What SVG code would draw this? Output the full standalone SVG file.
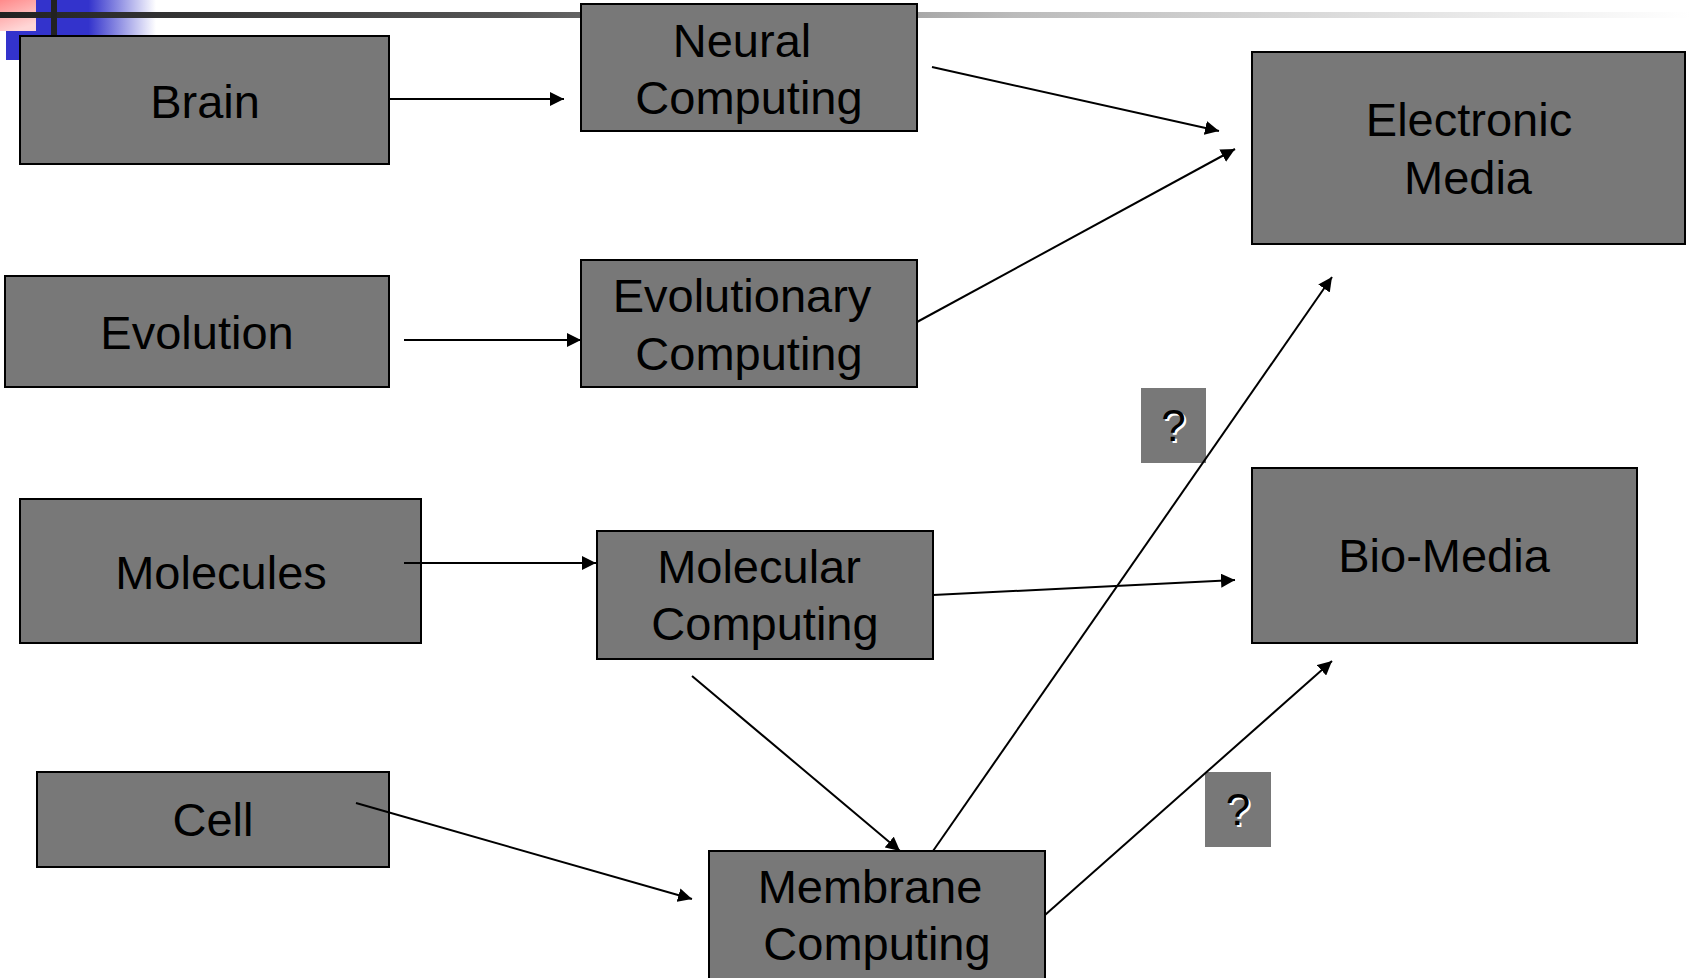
<svg xmlns="http://www.w3.org/2000/svg" width="1690" height="978" viewBox="0 0 1690 978">
<defs>
<linearGradient id="gLine" x1="0" y1="0" x2="1" y2="0">
<stop offset="0" stop-color="#222"/>
<stop offset="0.3" stop-color="#555"/>
<stop offset="0.6" stop-color="#bbb"/>
<stop offset="1" stop-color="#fff"/>
</linearGradient>
<linearGradient id="gBlue" x1="0" y1="0" x2="1" y2="0">
<stop offset="0" stop-color="#3333cc"/>
<stop offset="0.55" stop-color="#3333cc"/>
<stop offset="1" stop-color="#3333cc" stop-opacity="0"/>
</linearGradient>
<linearGradient id="gPink" x1="0" y1="0" x2="0.4" y2="1">
<stop offset="0" stop-color="#ff8a8a"/>
<stop offset="1" stop-color="#ffd6d6"/>
</linearGradient>
<marker id="arr" viewBox="0 0 10 10" refX="10" refY="5" markerWidth="7" markerHeight="7" orient="auto" markerUnits="strokeWidth">
<path d="M0,0 L10,5 L0,10 z" fill="#000"/>
</marker>
</defs>
<style>
.box{fill:#787878;stroke:#000;stroke-width:2}
.q{fill:#787878}
.t{font-family:"Liberation Sans",Arial,sans-serif;font-size:47px;fill:#000;text-anchor:middle}
.qt{font-family:"Liberation Sans",Arial,sans-serif;font-size:44px;text-anchor:middle}
.c line{stroke:#000;stroke-width:2;marker-end:url(#arr)}
</style>
<g id="decor">
<rect x="6" y="0" width="150" height="60" fill="url(#gBlue)"/>
<rect x="0" y="0" width="36" height="31" fill="url(#gPink)"/>
<rect x="0" y="12" width="1690" height="6" fill="url(#gLine)"/>
<rect x="51" y="0" width="6" height="40" fill="#222"/>
</g>
<g id="q1">
<rect class="q" x="1141" y="388" width="65" height="75"/>
<text class="qt" x="1175.5" y="443" fill="#fff">?</text>
<text class="qt" x="1173.5" y="441" fill="#000">?</text>
</g>
<g id="q2">
<rect class="q" x="1205" y="772" width="66" height="75"/>
<text class="qt" x="1240" y="827" fill="#fff">?</text>
<text class="qt" x="1238" y="825" fill="#000">?</text>
</g>
<g id="brain"><rect class="box" x="20" y="36" width="369" height="128"/><text class="t" x="205" y="118">Brain</text></g>
<g id="neural"><rect class="box" x="581" y="4" width="336" height="127"/><text class="t" x="742" y="57">Neural</text><text class="t" x="749" y="114">Computing</text></g>
<g id="electronic"><rect class="box" x="1252" y="52" width="433" height="192"/><text class="t" x="1469" y="136">Electronic</text><text class="t" x="1468" y="194">Media</text></g>
<g id="evolution"><rect class="box" x="5" y="276" width="384" height="111"/><text class="t" x="197" y="349">Evolution</text></g>
<g id="evolutionary"><rect class="box" x="581" y="260" width="336" height="127"/><text class="t" x="742" y="312">Evolutionary</text><text class="t" x="749" y="370">Computing</text></g>
<g id="molecules"><rect class="box" x="20" y="499" width="401" height="144"/><text class="t" x="221" y="589">Molecules</text></g>
<g id="molecular"><rect class="box" x="597" y="531" width="336" height="128"/><text class="t" x="759" y="583">Molecular</text><text class="t" x="765" y="640">Computing</text></g>
<g id="biomedia"><rect class="box" x="1252" y="468" width="385" height="175"/><text class="t" x="1444" y="572">Bio-Media</text></g>
<g id="cell"><rect class="box" x="37" y="772" width="352" height="95"/><text class="t" x="213" y="836">Cell</text></g>
<g id="membrane"><rect class="box" x="709" y="851" width="336" height="140"/><text class="t" x="870" y="903">Membrane</text><text class="t" x="877" y="960">Computing</text></g>
<g id="connectors" class="c">
<line x1="389" y1="99" x2="564" y2="99"/>
<line x1="932" y1="67" x2="1219" y2="131"/>
<line x1="917" y1="322" x2="1235" y2="149"/>
<line x1="404" y1="340" x2="581" y2="340"/>
<line x1="404" y1="563" x2="596" y2="563"/>
<line x1="933" y1="595" x2="1235" y2="580"/>
<line x1="692" y1="676" x2="900" y2="851"/>
<line x1="356" y1="803" x2="692" y2="899"/>
<line x1="933" y1="851" x2="1332" y2="277"/>
<line x1="1045" y1="915" x2="1332" y2="661"/>
</g>
</svg>
